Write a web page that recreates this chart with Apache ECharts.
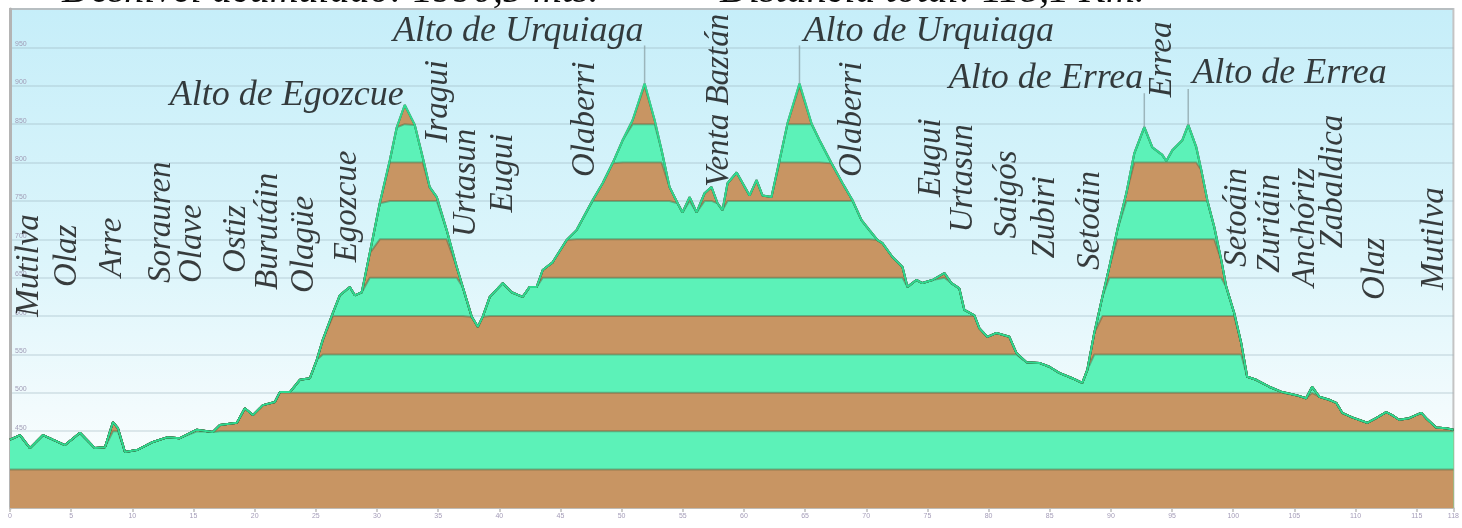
<!DOCTYPE html>
<html><head><meta charset="utf-8">
<script src="https://cdn.jsdelivr.net/npm/echarts@6/dist/echarts.min.js"></script>
<style>html,body{margin:0;padding:0;background:#fff}#c{width:1462px;height:528px}</style>
</head><body><div id="c"></div>
<script>
// ---- data ----
const distKm = [0,0.82,1.63,2.70,3.51,4.49,5.72,6.94,7.76,8.42,
8.82,9.40,10.46,11.68,12.83,13.89,15.28,16.58,17.16,18.55,
19.20,19.85,20.67,21.65,22.06,22.88,23.69,24.51,25.08,25.57,
26.39,26.96,27.78,28.19,28.76,29.41,30.23,31.05,31.62,32.27,
33.09,33.74,34.31,34.89,35.70,36.52,37.01,37.75,38.24,38.64,
39.22,40.28,41.01,41.91,42.48,43.06,43.55,44.36,45.51,46.32,
47.63,48.45,49.26,50.08,50.90,51.88,52.70,53.27,53.92,54.58,
54.98,55.56,56.13,56.78,57.35,57.84,58.25,58.66,59.40,60.46,
61.03,61.52,62.25,62.91,63.56,64.54,65.52,66.18,67.16,68.06,
68.87,69.61,70.26,70.92,71.32,72.14,72.96,73.37,74.10,74.59,
75.41,76.39,76.96,77.61,78.02,78.84,79.25,79.90,80.64,81.70,
82.27,83.09,84.15,84.97,85.78,86.85,87.66,88.07,88.64,89.30,
89.87,90.52,91.26,91.91,92.73,93.38,94.20,94.53,95.02,95.83,
96.32,96.98,97.39,97.88,98.45,99.02,99.43,100.08,100.65,101.14,
101.88,102.94,104.00,105.15,105.96,106.45,107.03,107.84,108.42,108.91,
109.72,110.95,111.68,112.50,112.99,113.56,114.38,115.36,115.77,116.59,
117.40,118.0];
const elevM = [439,445,428,445,439,432,448,428,429,462,
454,423,426,436,442,441,452,449,458,461,
480,471,484,488,501,501,517,519,543,569,
604,627,638,627,631,682,747,803,846,875,
849,807,768,755,712,664,638,599,586,599,
625,643,631,625,638,638,660,670,699,712,
751,773,799,829,855,903,855,816,768,747,
735,755,735,760,768,747,738,773,787,757,
777,757,755,803,851,903,851,829,799,773,
751,725,712,699,695,677,664,638,647,643,
647,656,643,636,608,601,584,573,578,573,
552,540,539,534,526,519,513,530,578,625,
664,712,760,812,846,820,810,802,816,829,
849,820,790,751,716,673,638,604,565,521,
517,508,501,497,493,508,495,491,487,474,
468,461,467,475,471,465,467,474,467,455,
454,452];

const townNames = ['Mutilva','Olaz','Arre','Sorauren','Olave','Ostiz','Burutáin','Olagüe','Egozcue',
  'Iragui','Urtasun','Eugui','Olaberri','Venta Baztán','Olaberri','Eugui','Urtasun','Saigós','Zubiri',
  'Setoáin','Errea','Setoáin','Zuriáin','Anchóriz','Zabaldica','Olaz','Mutilva'];
const townKm = [1.6,4.7,8.4,12.4,14.9,18.5,21.1,24.1,27.6,
  35.0,37.3,40.3,47.0,58.0,68.9,75.3,77.9,81.5,84.6,
  88.3,94.2,100.3,103.0,105.9,108.2,111.6,116.4];
// elevation (axis units) where each vertical name starts
const townLabelElev = [599,638,651,643,643,656,634,630,670,
  826,703,735,781,768,781,755,709,701,675,
  660,885,664,656,638,688,621,634];

const peakNames = ['Alto de Egozcue','Alto de Urquiaga','Alto de Urquiaga','Alto de Errea','Alto de Errea'];
const peakKm = [32.27,51.88,64.54,92.73,96.32];
const peakElev = [875,903,903,846,849];

const yTickMin = 350, yTickMax = 1000, yTickStep = 50;
const xTickMax = 118, xTickStep = 5;
const titleLeftText = 'Desnivel acumulado: 1990,5 mts.';
const titleRightText = 'Distancia total: 118,1 Km.';

// ---- styling / layout (not data) ----
const peakLeaderPx = [0, 38, 38, 34, 36];
const peakSide = ['left','left','right','left','right'];
const peakLabelDy = [9, 4, 4, 3, 3];
const FONT = "'Liberation Serif','DejaVu Serif',serif";
const GREEN = '#5cf2b8', BROWN = '#c89563';
const INK = '#0c0c0c';

const profile = distKm.map((d, i) => [d, elevM[i]]);
const bandCount = (yTickMax - yTickMin) / yTickStep;
const series = [];
for (let k = bandCount - 1; k >= 0; k--) {
  const hi = yTickMin + (k + 1) * yTickStep;
  series.push({
    type: 'line', silent: true, symbol: 'none', z: 2,
    data: profile.map(p => [p[0], Math.min(p[1], hi)]),
    lineStyle: { color: 'rgba(70,80,50,0.38)', width: 2 },
    areaStyle: { color: k % 2 === 0 ? BROWN : GREEN, opacity: 1, origin: 'start' }
  });
}
series.push({
  type: 'line', silent: true, symbol: 'none', z: 4, data: profile,
  lineStyle: { color: '#2fd98f', width: 2 }
});
const txt = { fontFamily: FONT, fontStyle: 'italic', fontSize: 33, color: INK };
series.push({
  type: 'scatter', silent: true, z: 6, symbolSize: 0,
  data: townNames.map((n, i) => ({ name: n, value: [townKm[i], townLabelElev[i]] })),
  label: Object.assign({ show: true, position: 'inside', rotate: 90, align: 'left', verticalAlign: 'middle',
    formatter: p => p.name }, txt)
});
series.push({
  type: 'scatter', silent: true, z: 6, symbol: 'rect',
  data: peakNames.map((n, i) => ({
    name: n, value: [peakKm[i], peakElev[i]],
    symbolSize: [1.5, Math.max(peakLeaderPx[i], 0.1)],
    symbolOffset: [0, -peakLeaderPx[i] / 2],
    label: { align: peakSide[i] === 'left' ? 'right' : 'left',
      offset: [peakSide[i] === 'left' ? -1 : 4, peakLabelDy[i]] }
  })),
  itemStyle: { color: '#8fa6ab' },
  label: Object.assign({ show: true, position: 'top', distance: 0, formatter: p => p.name }, txt, { fontSize: 36 })
});

const chart = echarts.init(document.getElementById('c'), null, { renderer: 'canvas' });
const titleFont = "italic 40px " + FONT;
chart.setOption({
  animation: false,
  backgroundColor: '#ffffff',
  graphic: [
    { type: 'text', x: 62, y: 11, z: 10, silent: true,
      style: { text: titleLeftText, font: titleFont, fill: INK, verticalAlign: 'bottom' } },
    { type: 'text', x: 720, y: 11, z: 10, silent: true,
      style: { text: titleRightText, font: titleFont, fill: INK, verticalAlign: 'bottom' } }
  ],
  grid: {
    left: 10, right: 8, top: 9, bottom: 20, show: true,
    borderColor: '#c4c4c4', borderWidth: 2,
    backgroundColor: new echarts.graphic.LinearGradient(0, 0, 0, 1, [
      { offset: 0, color: '#c6eef9' }, { offset: 0.5, color: '#dcf5fb' },
      { offset: 0.8, color: '#f2fbfd' }, { offset: 1, color: '#ffffff' }])
  },
  xAxis: {
    type: 'value', min: 0, max: xTickMax, interval: xTickStep,
    axisLine: { show: true, lineStyle: { color: '#c0bcb6', width: 2 } },
    axisTick: { show: true, length: 4, lineStyle: { color: '#bdbdbd', width: 1.5 } },
    axisLabel: { fontSize: 7, color: '#a49cb8', margin: 5, showMaxLabel: true },
    splitLine: { show: false }
  },
  yAxis: {
    type: 'value', min: yTickMin, max: yTickMax, interval: yTickStep,
    axisLine: { show: true, lineStyle: { color: '#b4b4b4', width: 3 } },
    axisTick: { show: false },
    axisLabel: { inside: true, fontSize: 7, color: '#a09cb6', margin: 5, verticalAlign: 'bottom',
      showMinLabel: false, showMaxLabel: false },
    splitLine: { show: true, lineStyle: { color: 'rgba(150,175,185,0.28)', width: 2 } }
  },
  series: series
});
</script>
</body></html>
